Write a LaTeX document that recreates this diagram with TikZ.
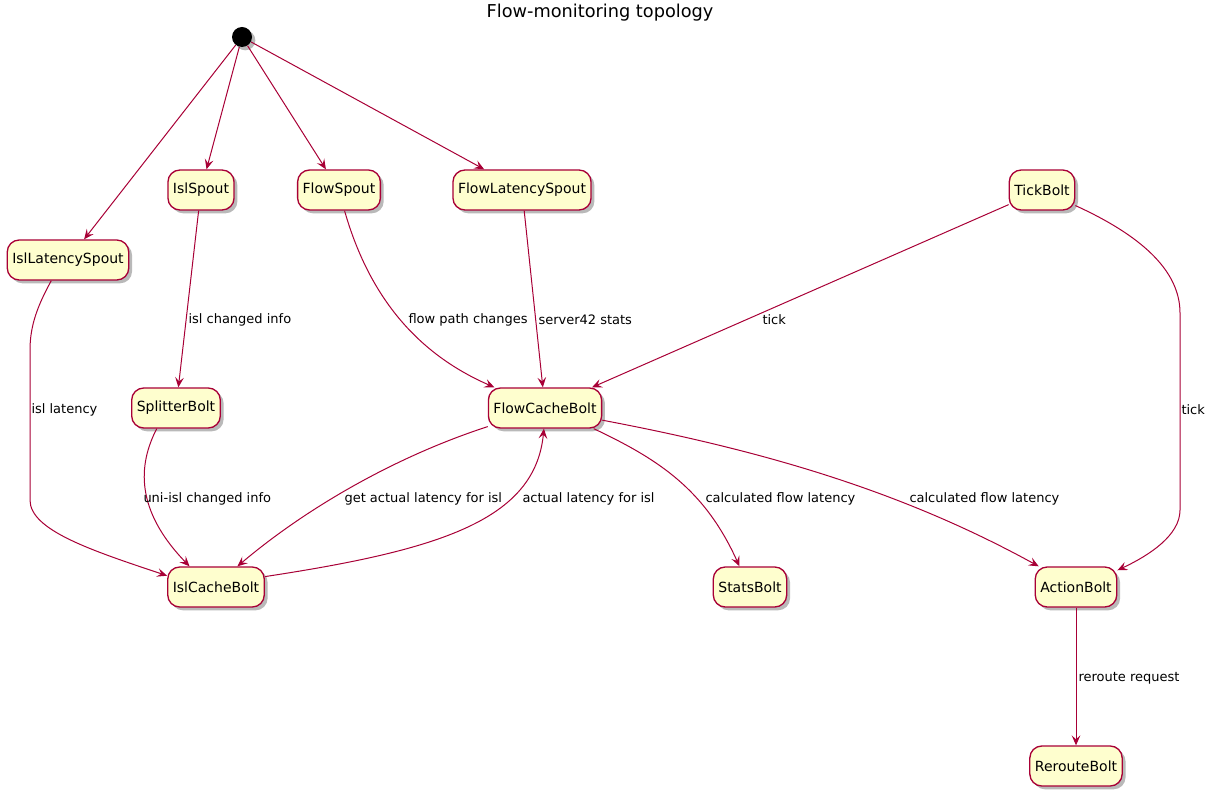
\documentclass[tikz,border=0pt]{standalone}
\usepackage{fontspec}
\setmainfont{DejaVu Sans}
\usetikzlibrary{arrows.meta,shadows}
\definecolor{umlred}{HTML}{A80036}
\definecolor{umlfill}{HTML}{FEFECE}
\begin{document}
\begin{tikzpicture}[x=0.75pt,y=-0.75pt,
    umlshadow/.style={drop shadow={shadow xshift=2.5pt,shadow yshift=-2.5pt,fill=black!55,opacity=.5}},
    state/.style={draw=umlred,fill=umlfill,line width=1pt,rounded corners=9pt,
      minimum height=30pt,inner xsep=3.8pt,font=\fontsize{10.5}{12}\selectfont,umlshadow},
    startdot/.style={circle,fill=black,minimum size=15pt,inner sep=0pt,umlshadow},
    lbl/.style={anchor=west,inner sep=0pt,font=\fontsize{9.75}{11}\selectfont},
    flow/.style={draw=umlred,line width=0.75pt,-{Stealth[length=7.5pt,width=6.5pt,inset=3pt]}}]
  \useasboundingbox (0,0) rectangle (1212,798);
  \path
    (600,13) node[font=\fontsize{13.3}{15}\selectfont] (title) {Flow-monitoring topology}
    (242,37) node[startdot] (start) {}
    (201,190) node[state] (islSpout) {IslSpout}
    (339,190) node[state] (flowSpout) {FlowSpout}
    (522,190) node[state] (flowLat) {FlowLatencySpout}
    (1042,190) node[state] (tick) {TickBolt}
    (68,260) node[state] (islLat) {IslLatencySpout}
    (176,408) node[state] (splitter) {SplitterBolt}
    (545,408) node[state] (flowCache) {FlowCacheBolt}
    (216,587) node[state] (islCache) {IslCacheBolt}
    (750,587) node[state] (stats) {StatsBolt}
    (1076,587) node[state] (action) {ActionBolt}
    (1076,766) node[state] (reroute) {RerouteBolt};
  \begin{scope}[flow]
    \draw (start) -- (islLat);
    \draw (start) -- (islSpout);
    \draw (start) -- (flowSpout);
    \draw (start) -- (flowLat);
    \draw (islSpout) -- (splitter) node[lbl] at (188,320) {isl changed info};
    \draw (flowSpout.-75) .. controls (370,300) and (420,355) .. ([xshift=5pt]flowCache.north west)
      node[lbl] at (408,320) {flow path changes};
    \draw (flowLat) -- (flowCache) node[lbl] at (538,320) {server42 stats};
    \draw (tick) -- (flowCache) node[lbl] at (762,320) {tick};
    \draw (tick.-25) .. controls (1140,235) and (1180,270) .. (1180,313) -- (1180,510)
      .. controls (1180,535) and (1150,555) .. (action.22) node[lbl] at (1181,410) {tick};
    \draw (islLat.231) .. controls (38,305) and (30,325) .. (30,350) -- (30,500)
      .. controls (30,530) and (90,550) .. (islCache.167) node[lbl] at (31,410) {isl latency};
    \draw (splitter.-133) .. controls (138,465) and (135,510) .. (islCache.142)
      node[lbl] at (143,499) {uni-isl changed info};
    \draw (flowCache.198) .. controls (400,455) and (310,505) .. (islCache.44)
      node[lbl] at (344,499) {get actual latency for isl};
    \draw (islCache.12) .. controls (440,550) and (535,520) .. (flowCache.-93)
      node[lbl] at (522,499) {actual latency for isl};
    \draw (flowCache.-23) .. controls (660,460) and (705,490) .. (stats.117)
      node[lbl] at (705,499) {calculated flow latency};
    \draw (flowCache.-12) .. controls (760,450) and (900,490) .. (action.151)
      node[lbl] at (909,499) {calculated flow latency};
    \draw (action) -- (reroute) node[lbl] at (1078,678) {reroute request};
  \end{scope}
\end{tikzpicture}
\end{document}
